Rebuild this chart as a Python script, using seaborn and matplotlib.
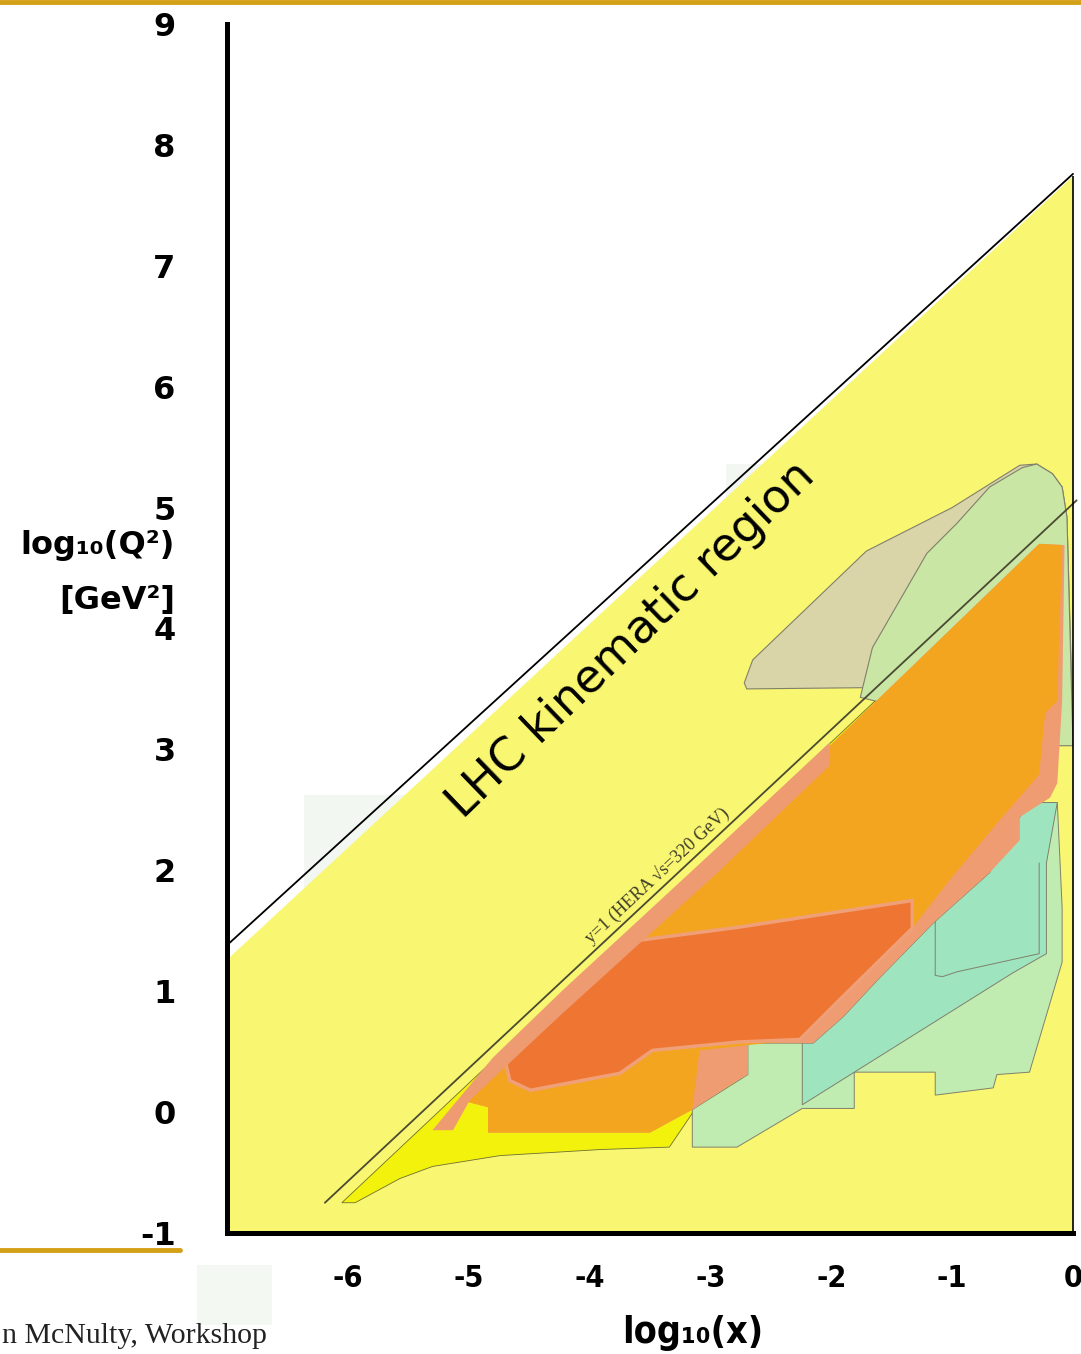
import matplotlib
matplotlib.use("Agg")
import matplotlib.pyplot as plt
import matplotlib.lines as mlines
import matplotlib.patches as mpatches
import pandas as pd
import seaborn as sns

# everything in (log10 x, log10 Q^2)

# LHC reach
lhc_x = [-7.0, -7.0, 0.0, 0.0]
lhc_y = [-1.0, 1.26, 7.74, -1.0]
lhc_bound_x = [-7.0, 0.0]
lhc_bound_y = [1.38, 7.76]

# y=1 line at HERA
hera_x = [-6.19, 0.03]
hera_y = [-0.75, 5.06]

# fixed target
ft_x = [-6.05, -5.94, -5.57, -5.30, -4.74, -3.91, -3.34, -3.15, -2.78, -0.28, -0.32]
ft_y = [-0.75, -0.75, -0.55, -0.45, -0.36, -0.31, -0.29, -0.01, 0.22, 4.56, 4.64]

# high Q2 regions (top right)
hq_gray_x = [-2.72, -2.65, -1.71, -1.00, -0.44, -0.30, -0.17, -0.09, -0.05, -0.01, -1.74, -2.70]
hq_gray_y = [3.55, 3.74, 4.64, 5.00, 5.35, 5.36, 5.28, 5.17, 4.92, 3.51, 3.51, 3.50]
hq_green_x = [-1.76, -1.66, -1.21, -0.96, -0.69, -0.42, -0.30, -0.17, -0.09, -0.05, 0.00, -0.11]
hq_green_y = [3.43, 3.84, 4.62, 4.87, 5.17, 5.33, 5.36, 5.28, 5.17, 4.92, 3.03, 3.03]

# green regions at high x
green_a_x = [-3.15, -2.78, -2.24, -1.81, -1.81, -1.14, -1.14, -0.66, -0.63, -0.36, -0.09, -0.09,
             -0.13, -0.38, -0.44, -0.69, -1.16, -1.62, -1.90, -2.15, -2.69, -2.69, -3.15]
green_a_y = [-0.29, -0.29, 0.03, 0.03, 0.33, 0.33, 0.14, 0.20, 0.31, 0.33, 1.24, 1.69,
             2.56, 2.56, 2.44, 1.98, 1.56, 1.09, 0.79, 0.57, 0.57, 0.31, 0.02]
green_b_x = [-2.24, -2.24, -0.50, -0.22, -0.22, -0.13, -0.38, -0.44, -0.69, -1.16, -1.62, -1.90, -2.15]
green_b_y = [0.57, 0.06, 1.15, 1.31, 2.06, 2.56, 2.56, 2.44, 1.98, 1.56, 1.09, 0.79, 0.57]
green_box_x = [-1.14, -1.14, -1.08, -0.96, -0.28, -0.28]
green_box_y = [2.06, 1.13, 1.12, 1.16, 1.31, 2.06]

# H1 / ZEUS, envelope and core
h1_full_x = [-4.84, -3.50, -3.15, -2.81, -2.69, -2.69, -2.15, -1.90, -1.62, -1.16, -0.69, -0.44, -0.44,
             -0.19, -0.13, -0.09, -0.07, -0.28, -2.26, -2.76, -3.17, -3.91, -4.41, -5.07, -4.84]
h1_full_y = [-0.17, -0.17, 0.02, 0.24, 0.31, 0.57, 0.57, 0.79, 1.09, 1.56, 1.98, 2.25, 2.44,
             2.60, 2.72, 3.40, 4.69, 4.70, 2.79, 2.17, 1.83, 1.09, 0.68, 0.10, 0.04]
h1_core_x = [-4.84, -3.50, -3.15, -3.09, -2.26, -1.93, -1.33, -1.02, -0.61, -0.28, -0.23, -0.13,
             -0.09, -0.28, -2.26, -2.76, -3.17, -3.91, -4.41, -5.07, -4.84]
h1_core_y = [-0.17, -0.17, 0.02, 0.51, 0.60, 0.93, 1.52, 1.92, 2.41, 2.79, 3.30, 3.40,
             4.69, 4.70, 2.79, 2.17, 1.83, 1.09, 0.68, 0.10, 0.04]
red_x = [-4.70, -4.22, -3.75, -2.76, -1.33, -1.33, -1.93, -2.26, -2.76, -3.48, -3.75, -4.49, -4.66]
red_y = [0.43, 0.93, 1.40, 1.53, 1.75, 1.52, 0.93, 0.60, 0.58, 0.51, 0.32, 0.18, 0.26]
strip_x = [-5.30, -4.80, -4.22, -3.58, -2.92, -2.01, -2.01, -2.92, -3.58, -4.22, -4.99, -5.13]
strip_y = [-0.15, 0.45, 1.01, 1.60, 2.21, 3.06, 2.87, 2.00, 1.40, 0.82, 0.10, -0.15]

# pale scan leftovers behind the LHC triangle (x0, y0, x1, y1)
pale_x0 = [-6.36, -2.87]
pale_y0 = [1.00, 4.90]
pale_x1 = [-5.50, -2.40]
pale_y1 = [2.62, 5.36]

xticks = [-7, -6, -5, -4, -3, -2, -1, 0]
xtick_labels = ["", "-6", "-5", "-4", "-3", "-2", "-1", "0"]
yticks = [-1, 0, 1, 2, 3, 4, 5, 6, 7, 8, 9]

sns.set_theme(style="white")
plt.rcParams["font.family"] = ["DejaVu Sans"]
for key in ["text.color", "axes.labelcolor", "xtick.color", "ytick.color"]:
    plt.rcParams[key] = "black"

fig = plt.figure(figsize=(10.81, 13.54), dpi=100)
fig.patch.set_facecolor("white")
ax = fig.add_axes([0.2100, 0.0894, 0.7826, 0.8929])
ax.set_facecolor("white")

for x0, y0, x1, y1 in zip(pale_x0, pale_y0, pale_x1, pale_y1):
    ax.add_patch(mpatches.Rectangle((x0, y0), x1 - x0, y1 - y0, color="#f3f7f2", lw=0, zorder=0.5))

ax.fill(lhc_x, lhc_y, color="#f9f672", lw=0, zorder=1)
ax.fill(ft_x, ft_y, facecolor="#f2f20c", edgecolor="#6f6f30", lw=0.6, zorder=2)

edge = "#80806a"
ax.fill(hq_gray_x, hq_gray_y, facecolor="#d9d5a8", edgecolor=edge, lw=0.8, zorder=3)
ax.fill(hq_green_x, hq_green_y, facecolor="#c9e6a4", edgecolor=edge, lw=0.8, zorder=3.1)
ax.fill(green_a_x, green_a_y, facecolor="#c0ecb2", edgecolor=edge, lw=0.7, zorder=3.2)
ax.fill(green_b_x, green_b_y, facecolor="#9ee5bf", edgecolor=edge, lw=0.7, zorder=3.3)
ax.plot(green_box_x, green_box_y, color=edge, lw=0.7, zorder=3.4)

ax.fill(h1_full_x, h1_full_y, facecolor="#ef9c72", lw=0, zorder=4)
ax.fill(h1_core_x, h1_core_y, facecolor="#f4a51f", lw=0, zorder=4.1)
ax.fill(red_x, red_y, facecolor="#ef7632", edgecolor="#f0a078", lw=2.5, zorder=4.2)
ax.fill(strip_x, strip_y, facecolor="#ee9b72", lw=0, zorder=4.3)

lines = pd.DataFrame({"x": lhc_bound_x + hera_x, "y": lhc_bound_y + hera_y,
                      "curve": ["LHC", "LHC", "HERA", "HERA"]})
sns.lineplot(data=lines[lines.curve == "LHC"], x="x", y="y", color="black", lw=1.3,
             sort=False, ax=ax, zorder=6)
sns.lineplot(data=lines[lines.curve == "HERA"], x="x", y="y", color="#4a4a32", lw=1.3,
             sort=False, ax=ax, zorder=6)
for l in ax.lines:
    l.set_clip_on(False)
ax.vlines(lhc_x[-1], lhc_y[-1], lhc_y[2], color="black", lw=1.2, zorder=6, clip_on=False)

ax.text(-3.66, 3.90, "LHC kinematic region", rotation=44, rotation_mode="anchor",
        ha="center", va="center", fontsize=33, color="black", zorder=7)
ax.text(-3.44, 1.96, "y=1 (HERA \u221as=320 GeV)", rotation=43, rotation_mode="anchor",
        ha="center", va="center", fontsize=13, color="#3e3e28",
        family=["Liberation Serif", "DejaVu Serif"], zorder=7)

ax.set_xlim(-7, 0)
ax.set_ylim(-1, 9)
ax.set_xticks(xticks)
ax.set_xticklabels(xtick_labels)
ax.set_yticks(yticks)
ax.set_yticklabels([str(v) for v in yticks])
for s in ["top", "right"]:
    ax.spines[s].set_visible(False)
for s in ["left", "bottom"]:
    ax.spines[s].set_linewidth(3.6)
    ax.spines[s].set_color("black")
    ax.spines[s].set_zorder(8)
ax.tick_params(axis="both", direction="out", length=10, width=3, color="black")
ax.tick_params(axis="y", pad=27, labelsize=23, labelcolor="black")
ax.tick_params(axis="x", pad=12, labelsize=22, labelcolor="black")
for t in ax.get_yticklabels():
    t.set_fontweight("bold")
for t in ax.get_xticklabels():
    t.set_fontweight("bold")
    t.set_fontstretch("condensed")

ax.set_ylabel("")
ax.set_xlabel("log\u2081\u2080(x)", fontsize=27, fontweight="bold", color="black",
              fontstretch="condensed")
ax.xaxis.set_label_coords(0.55, -0.068)
ax.text(-0.0615, 0.569, "log\u2081\u2080(Q\u00b2)", transform=ax.transAxes, ha="right",
        va="center", fontsize=23, fontweight="bold")
ax.text(-0.0615, 0.523, "[GeV\u00b2]", transform=ax.transAxes, ha="right",
        va="center", fontsize=23, fontweight="bold")

# slide furniture
gold = "#d4a017"
fig.add_artist(mlines.Line2D([0, 1], [0.9985, 0.9985], color=gold, lw=3.5))
fig.add_artist(mlines.Line2D([0, 0.1665], [0.0768, 0.0768], color=gold, lw=3.5))
fig.add_artist(mpatches.Rectangle((0.182, 0.0214), 0.070, 0.0443, color="#f3f8f3", lw=0,
                                  transform=fig.transFigure))
fig.text(0.002, 0.008, "n McNulty, Workshop", fontsize=21.5, color="#222222",
         family=["Liberation Serif", "DejaVu Serif"])

fig.savefig("out.png", dpi=100)
